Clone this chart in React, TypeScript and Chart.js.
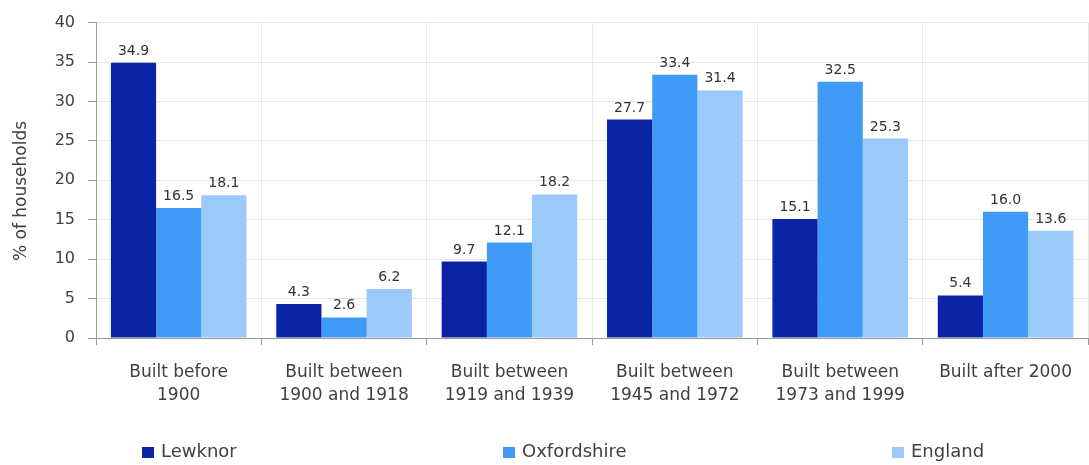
import { useEffect, useRef } from "react";
import { Chart, registerables } from "chart.js";

Chart.register(...registerables);

// ---- data ----
const categories: (string | string[])[] = [
  ["Built before", "1900"],
  ["Built between", "1900 and 1918"],
  ["Built between", "1919 and 1939"],
  ["Built between", "1945 and 1972"],
  ["Built between", "1973 and 1999"],
  ["Built after 2000"],
];
const seriesNames = ["Lewknor", "Oxfordshire", "England"];
const lewknor = [34.9, 4.3, 9.7, 27.7, 15.1, 5.4];
const oxfordshire = [16.5, 2.6, 12.1, 33.4, 32.5, 16.0];
const england = [18.1, 6.2, 18.2, 31.4, 25.3, 13.6];
const yMin = 0;
const yMax = 40;
const yStep = 5;
const yTitle = "% of households";

const seriesColors = ["#0b24a5", "#3f9bf6", "#9bc9fa"];
const FONT = '"DejaVu Sans", "Liberation Sans", Arial, sans-serif';

const customPlugin = {
  id: "customDraw",
  afterDatasetsDraw(chart: any) {
    const ctx = chart.ctx as CanvasRenderingContext2D;
    ctx.save();
    // value labels
    ctx.font = `14px ${FONT}`;
    ctx.fillStyle = "#333333";
    ctx.textAlign = "center";
    ctx.textBaseline = "alphabetic";
    chart.data.datasets.forEach((ds: any, i: number) => {
      const meta = chart.getDatasetMeta(i);
      meta.data.forEach((bar: any, j: number) => {
        const v = ds.data[j] as number;
        ctx.fillText(v.toFixed(1), bar.x, bar.y - 8);
      });
    });

    // legend
    const legendX = [142, 503, 892];
    const legendY = 452.5;
    ctx.font = `18px ${FONT}`;
    ctx.textAlign = "left";
    ctx.textBaseline = "middle";
    chart.data.datasets.forEach((ds: any, i: number) => {
      const x = legendX[i];
      ctx.fillStyle = ds.backgroundColor;
      ctx.fillRect(x, legendY - 5.5, 12, 11);
      ctx.fillStyle = "#404040";
      ctx.fillText(ds.label, x + 19, legendY);
    });

    // y axis title
    ctx.translate(22, 191);
    ctx.rotate(-Math.PI / 2);
    ctx.font = `17px ${FONT}`;
    ctx.textAlign = "center";
    ctx.textBaseline = "middle";
    ctx.fillStyle = "#404040";
    ctx.fillText(yTitle, 0, 0);
    ctx.restore();
  },
};

export default function App() {
  const canvasRef = useRef<HTMLCanvasElement | null>(null);

  useEffect(() => {
    document.body.style.margin = "0";
    const canvas = canvasRef.current;
    if (!canvas) return;
    const data = [lewknor, oxfordshire, england];
    const chart = new Chart(canvas, {
      type: "bar",
      data: {
        labels: categories,
        datasets: seriesNames.map((name, i) => ({
          label: name,
          data: data[i],
          backgroundColor: seriesColors[i],
          borderWidth: 0,
          categoryPercentage: 0.82,
          barPercentage: 1.0,
        })),
      },
      options: {
        animation: false,
        responsive: true,
        maintainAspectRatio: false,
        layout: { padding: { top: 19, right: 0, bottom: 0, left: 0 } },
        plugins: {
          legend: { display: false },
          tooltip: { enabled: false },
        },
        scales: {
          x: {
            ticks: {
              color: "#404040",
              font: { family: FONT, size: 17, lineHeight: 1.3 },
              padding: 17,
              autoSkip: false,
              maxRotation: 0,
              minRotation: 0,
            },
            grid: { color: "#e6e6e6", tickColor: "#9a9a9a", tickLength: 7, offset: true },
            border: { color: "#9a9a9a" },
            afterFit: (s: any) => {
              s.height = 127;
            },
          },
          y: {
            min: yMin,
            max: yMax,
            ticks: {
              stepSize: yStep,
              color: "#404040",
              font: { family: FONT, size: 16 },
              padding: 13,
            },
            grid: { color: "#e6e6e6", tickColor: "#9a9a9a", tickLength: 8 },
            border: { color: "#9a9a9a" },
            afterFit: (s: any) => {
              s.width = 96;
            },
          },
        },
      },
      plugins: [customPlugin],
    });
    return () => chart.destroy();
  }, []);

  return (
    <div style={{ position: "relative", width: "1089px", height: "465px" }}>
      <canvas ref={canvasRef} />
    </div>
  );
}
